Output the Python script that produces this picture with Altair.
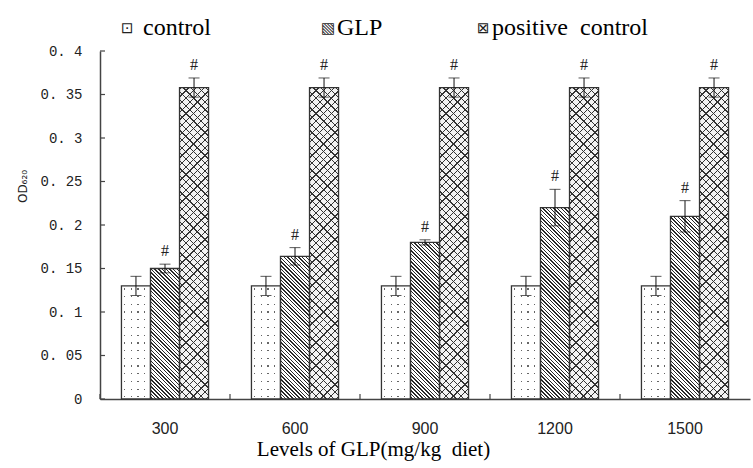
import math
import altair as alt
import pandas as pd

# ---------------- data ----------------
doses = ["300", "600", "900", "1200", "1500"]
series = ["control", "GLP", "positive control"]
legend_labels = ["control", "GLP", "positive\u00a0\u00a0control"]

control_mean = [0.13, 0.13, 0.13, 0.13, 0.13]
control_err = [0.011, 0.011, 0.011, 0.011, 0.011]
glp_mean = [0.15, 0.164, 0.18, 0.22, 0.21]
glp_err = [0.005, 0.010, 0.003, 0.021, 0.018]
pos_mean = [0.358, 0.358, 0.358, 0.358, 0.358]
pos_err = [0.011, 0.011, 0.011, 0.011, 0.011]
control_sig = ["", "", "", "", ""]
glp_sig = ["#", "#", "#", "#", "#"]
pos_sig = ["#", "#", "#", "#", "#"]

y_ticks = [0, 0.05, 0.1, 0.15, 0.2, 0.25, 0.3, 0.35, 0.4]

# ---------------- layout ----------------
W, H = 650, 348
YMAX = 0.4
PAD_IN, PAD_OUT = 0.33, 0.165
STEP = W / len(doses)
BW = STEP * (1 - PAD_IN) / len(series)
PX = H / YMAX

rows = []
for s, means, errs, sigs in [
    (series[0], control_mean, control_err, control_sig),
    (series[1], glp_mean, glp_err, glp_sig),
    (series[2], pos_mean, pos_err, pos_sig),
]:
    for d, m, e, g in zip(doses, means, errs, sigs):
        rows.append({"dose": d, "series": s, "value": m,
                     "lo": m - e, "hi": m + e, "sig": g})
df = pd.DataFrame(rows)

# ---------------- pattern helpers (linear gradients used as hatching) ----------------
CLEAR = "rgba(255,255,255,0)"


def stripe_stops(L, period, lw, line, bg, phase=0.8):
    stops = [(0.0, bg)]
    a = phase
    while a < L:
        b = min(a + lw, L)
        for o, c in [(a, bg), (a, line), (b, line), (b, bg)]:
            stops.append((round(o / L, 6), c))
        a += period
    stops.append((1.0, bg))
    return [alt.GradientStop(offset=o, color=c) for o, c in stops]


def diag(w, h, period, lw, line, bg, kind):
    L = (w + h) / math.sqrt(2)
    t = (1 / w + 1 / h) / (1 / w ** 2 + 1 / h ** 2)
    if kind == "back":   # "\" lines
        x1, y1, x2, y2 = 0, 1, t / h, 1 - t / w
    else:                # "/" lines
        x1, y1, x2, y2 = 0, 0, t / h, t / w
    return alt.LinearGradient(gradient="linear", x1=x1, y1=y1, x2=x2, y2=y2,
                              stops=stripe_stops(L, period, lw, line, bg))


def straight(L, period, lw, line, bg, vertical):
    if vertical:
        x1, y1, x2, y2 = 0, 0, 0, 1
    else:
        x1, y1, x2, y2 = 0, 0, 1, 0
    return alt.LinearGradient(gradient="linear", x1=x1, y1=y1, x2=x2, y2=y2,
                              stops=stripe_stops(L, period, lw, line, bg, phase=2.5))


# ---------------- encodings ----------------
X_TITLE = "Levels of GLP(mg/kg\u00a0 diet)"
X_SCALE = alt.Scale(paddingInner=PAD_IN, paddingOuter=PAD_OUT)
X_AXIS = alt.Axis(labelAngle=0, ticks=False, tickSize=0, labelPadding=21,
                  labelFont="Liberation Sans", labelFontSize=16, labelColor="#222",
                  domainColor="#444", domainWidth=1.5,
                  titleFont="Liberation Serif", titleFontSize=21,
                  titleFontWeight="normal", titleColor="#000",
                  titleX=273, titleY=56, titleAlign="center",
                  titleBaseline="alphabetic")
X = alt.X("dose:N", sort=doses, title=X_TITLE, scale=X_SCALE, axis=X_AXIS)
XO = alt.XOffset("series:N", sort=series, scale=alt.Scale(paddingInner=0, paddingOuter=0))


def Y(field):
    return alt.Y(field, type="quantitative", title="OD\u2086\u2082\u2080",
                 scale=alt.Scale(domain=[0, YMAX], nice=False, zero=True),
                 axis=alt.Axis(values=y_ticks, format="~g",
                               labelExpr="replace(datum.label, '.', '. ')",
                               ticks=False, tickSize=0, labelPadding=18, grid=False,
                               labelFont="Liberation Mono", labelFontSize=14,
                               labelColor="#222", domainColor="#444", domainWidth=1.5,
                               titleFont="DejaVu Sans", titleFontSize=12,
                               titleFontWeight="normal", titleColor="#222",
                               titleX=-78, titleY=135, titleAngle=270,
                               titleAlign="center", titleBaseline="middle"))


base = alt.Chart(df)
layers = []

# control: dotted fill (dark base, white rows and columns with small holes)
h_c = control_mean[0] * PX
ctl = base.transform_filter(alt.datum.series == series[0])
layers.append(ctl.mark_bar(fill="#666", strokeWidth=0).encode(x=X, xOffset=XO, y=Y("value")))
layers.append(ctl.mark_bar(fill=straight(h_c, 7.7, 1.3, CLEAR, "#ffffff", True),
                           strokeWidth=0).encode(x=X, xOffset=XO, y=Y("value")))
layers.append(ctl.mark_bar(fill=straight(BW, 6.7, 1.3, CLEAR, "#ffffff", False),
                           strokeWidth=0).encode(x=X, xOffset=XO, y=Y("value")))

# GLP: diagonal hatching "\"
for d, m in zip(doses, glp_mean):
    g = diag(BW, m * PX, 2.6, 1.0, "#2a2a2a", "#ffffff", "back")
    layers.append(
        base.transform_filter((alt.datum.series == series[1]) & (alt.datum.dose == d))
        .mark_bar(fill=g, strokeWidth=0)
        .encode(x=X, xOffset=XO, y=Y("value"))
    )

# positive control: cross hatching
h_p = pos_mean[0] * PX
pos = base.transform_filter(alt.datum.series == series[2])
layers.append(pos.mark_bar(fill=diag(BW, h_p, 5.4, 0.9, "#333", "#f3f3f3", "back"),
                           strokeWidth=0).encode(x=X, xOffset=XO, y=Y("value")))
layers.append(pos.mark_bar(fill=diag(BW, h_p, 5.4, 0.9, "#333", CLEAR, "fwd"),
                           strokeWidth=0).encode(x=X, xOffset=XO, y=Y("value")))

# outlines
layers.append(base.mark_bar(fillOpacity=0, stroke="#333", strokeWidth=1.3)
              .encode(x=X, xOffset=XO, y=Y("value")))

# error bars
layers.append(base.mark_rule(color="#111", strokeWidth=1)
              .encode(x=X, xOffset=XO, y=Y("lo"), y2="hi"))
layers.append(base.mark_tick(orient="horizontal", size=11, thickness=1, color="#111")
              .encode(x=X, xOffset=XO, y=Y("lo")))
layers.append(base.mark_tick(orient="horizontal", size=11, thickness=1, color="#111")
              .encode(x=X, xOffset=XO, y=Y("hi")))

# significance marks
layers.append(base.mark_text(baseline="bottom", dy=-5, font="Liberation Serif",
                             fontSize=16, color="#222")
              .encode(x=X, xOffset=XO, y=Y("hi"), text="sig:N"))

# inward tick marks
ydf = pd.DataFrame({"v": y_ticks})
layers.append(alt.Chart(ydf).mark_rule(color="#444", strokeWidth=1.2)
              .encode(y=Y("v"), x=alt.value(0), x2=alt.value(5)))
xdf = pd.DataFrame({"dose": doses})
layers.append(alt.Chart(xdf).mark_rule(color="#444", strokeWidth=1.2,
                                       xOffset=-STEP * PAD_IN / 2)
              .encode(x=alt.X("dose:N", sort=doses, bandPosition=0, title=X_TITLE,
                              scale=X_SCALE, axis=X_AXIS),
                      y=alt.value(H - 5), y2=alt.value(H)))

# legend (symbols + labels)
sym_chars = ["\u22a1", "\u25a7", "\u22a0"]
sym_x = [21, 221, 377]
lab_x = [43, 237, 392]
for i in range(3):
    sd = pd.DataFrame({"t": [sym_chars[i]]})
    layers.append(alt.Chart(sd).mark_text(font="DejaVu Sans", fontSize=15, align="left",
                                          baseline="middle", color="#222")
                  .encode(text="t:N", x=alt.value(sym_x[i]), y=alt.value(-23)))
    ld = pd.DataFrame({"t": [legend_labels[i]]})
    layers.append(alt.Chart(ld).mark_text(font="Liberation Serif", fontSize=24, align="left",
                                          baseline="alphabetic", color="#000")
                  .encode(text="t:N", x=alt.value(lab_x[i]), y=alt.value(-16)))

chart = alt.layer(*layers).properties(
    width=W, height=H,
    padding={"left": 100, "top": 51, "right": 3, "bottom": 69},
    autosize=alt.AutoSizeParams(type="none"),
    background="white",
).configure_view(stroke=None)

chart.save("out.html", embed_options={"renderer": "svg", "actions": False})
